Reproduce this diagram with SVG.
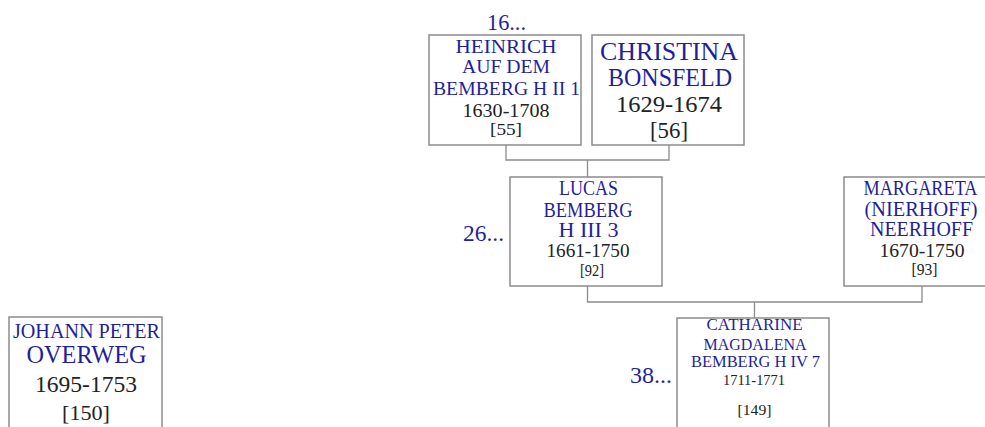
<svg xmlns="http://www.w3.org/2000/svg" width="985" height="427" viewBox="0 0 985 427">
<style>
.box{fill:#fff;stroke:#8c8c8c;stroke-width:1.5}
.con{fill:none;stroke:#8c8c8c;stroke-width:1.3}
text{font-family:"Liberation Serif","DejaVu Serif",serif;text-anchor:middle}
.n{fill:#1f1f9c}
.d{fill:#222}
.lab{fill:#1f1f9c;text-anchor:end}
</style>
<rect width="985" height="427" fill="#fff"/>
<g id="connectors">
<path class="con" d="M506,145V160H669V145M587.5,160V177"/>
<path class="con" d="M587.5,286V302H922V286M754.5,302V318"/>
</g>
<g id="labels">
<text class="lab" x="526" y="30" font-size="23" textLength="39" lengthAdjust="spacingAndGlyphs">16...</text>
<text class="lab" x="504" y="241" font-size="24" textLength="41" lengthAdjust="spacingAndGlyphs">26...</text>
<text class="lab" x="672" y="383" font-size="24" textLength="42" lengthAdjust="spacingAndGlyphs">38...</text>
</g>
<g id="node-heinrich">
<rect class="box" x="429" y="35" width="152" height="110"/>
<text class="n" x="506" y="53" font-size="19" textLength="101" lengthAdjust="spacingAndGlyphs">HEINRICH</text>
<text class="n" x="506" y="73" font-size="19" textLength="88" lengthAdjust="spacingAndGlyphs">AUF DEM</text>
<text class="n" x="506.5" y="95" font-size="19" textLength="147" lengthAdjust="spacingAndGlyphs">BEMBERG H II 1</text>
<text class="d" x="506" y="116.5" font-size="19" textLength="87" lengthAdjust="spacingAndGlyphs">1630-1708</text>
<text class="d" x="506" y="135" font-size="17" textLength="32" lengthAdjust="spacingAndGlyphs">[55]</text>
</g>
<g id="node-christina">
<rect class="box" x="592" y="35" width="152" height="110"/>
<text class="n" x="669" y="60" font-size="25" textLength="138" lengthAdjust="spacingAndGlyphs">CHRISTINA</text>
<text class="n" x="670" y="86" font-size="25" textLength="124" lengthAdjust="spacingAndGlyphs">BONSFELD</text>
<text class="d" x="669" y="112" font-size="24" textLength="106" lengthAdjust="spacingAndGlyphs">1629-1674</text>
<text class="d" x="669" y="138" font-size="23" textLength="38" lengthAdjust="spacingAndGlyphs">[56]</text>
</g>
<g id="node-lucas">
<rect class="box" x="510" y="177" width="152" height="109"/>
<text class="n" x="588.5" y="195" font-size="20" textLength="59" lengthAdjust="spacingAndGlyphs">LUCAS</text>
<text class="n" x="588" y="216.5" font-size="20" textLength="89" lengthAdjust="spacingAndGlyphs">BEMBERG</text>
<text class="n" x="588.5" y="236.5" font-size="20" textLength="60" lengthAdjust="spacingAndGlyphs">H III 3</text>
<text class="d" x="588" y="257" font-size="18" textLength="83" lengthAdjust="spacingAndGlyphs">1661-1750</text>
<text class="d" x="592" y="276" font-size="17" textLength="24" lengthAdjust="spacingAndGlyphs">[92]</text>
</g>
<g id="node-margareta">
<rect class="box" x="844" y="177" width="152" height="109"/>
<text class="n" x="920.5" y="195" font-size="20" textLength="114" lengthAdjust="spacingAndGlyphs">MARGARETA</text>
<text class="n" x="921" y="215.5" font-size="20" textLength="113" lengthAdjust="spacingAndGlyphs">(NIERHOFF)</text>
<text class="n" x="921.5" y="236" font-size="20" textLength="103" lengthAdjust="spacingAndGlyphs">NEERHOFF</text>
<text class="d" x="922" y="257" font-size="18" textLength="85" lengthAdjust="spacingAndGlyphs">1670-1750</text>
<text class="d" x="924.5" y="275" font-size="16" textLength="26" lengthAdjust="spacingAndGlyphs">[93]</text>
</g>
<g id="node-johann">
<rect class="box" x="9" y="317" width="153" height="120"/>
<text class="n" x="86.5" y="338" font-size="20" textLength="147" lengthAdjust="spacingAndGlyphs">JOHANN PETER</text>
<text class="n" x="86.5" y="363" font-size="25" textLength="120" lengthAdjust="spacingAndGlyphs">OVERWEG</text>
<text class="d" x="86" y="391.5" font-size="23.5" textLength="102" lengthAdjust="spacingAndGlyphs">1695-1753</text>
<text class="d" x="86" y="420" font-size="22" textLength="48" lengthAdjust="spacingAndGlyphs">[150]</text>
</g>
<g id="node-catharine">
<rect class="box" x="677" y="318" width="152" height="120"/>
<text class="n" x="754.5" y="329.5" font-size="16" textLength="96" lengthAdjust="spacingAndGlyphs">CATHARINE</text>
<text class="n" x="755" y="350" font-size="16" textLength="103" lengthAdjust="spacingAndGlyphs">MAGDALENA</text>
<text class="n" x="755.5" y="366.5" font-size="16" textLength="129" lengthAdjust="spacingAndGlyphs">BEMBERG H IV 7</text>
<text class="d" x="754" y="385" font-size="15" textLength="62" lengthAdjust="spacingAndGlyphs">1711-1771</text>
<text class="d" x="754.5" y="414.5" font-size="15" textLength="34" lengthAdjust="spacingAndGlyphs">[149]</text>
</g>
</svg>
